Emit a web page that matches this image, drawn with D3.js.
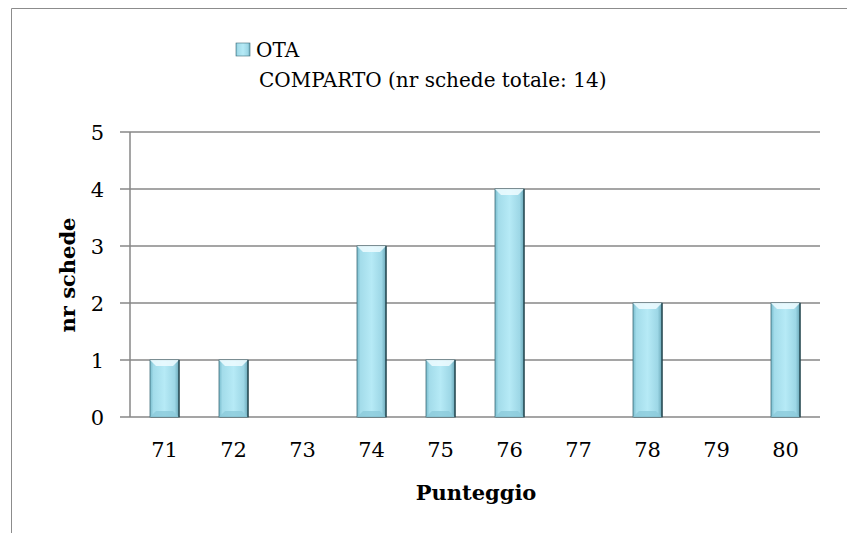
<!DOCTYPE html>
<html>
<head>
<meta charset="utf-8">
<script src="https://cdn.jsdelivr.net/npm/d3@7"></script>
<style>
  body { margin: 0; background: #fff; overflow: hidden; }
  svg { display: block; }
  text { font-family: "DejaVu Serif", "Liberation Serif", serif; fill: #000; }
</style>
</head>
<body>
<script>
// Dati
const categorie = ["71", "72", "73", "74", "75", "76", "77", "78", "79", "80"];
const valori = [1, 1, 0, 3, 1, 4, 0, 2, 0, 2];
const yTicks = [0, 1, 2, 3, 4, 5];
const serieNome = "OTA";
const serieNome2 = "COMPARTO (nr schede totale: 14)";

const w = 847, h = 533;
const pLeft = 130, pRight = 820, pTop = 132, pBottom = 417;

const svg = d3.select("body").append("svg")
  .attr("width", w).attr("height", h);

// Gradienti barre
const defs = svg.append("defs");
const grad = defs.append("linearGradient").attr("id", "barGrad")
  .attr("x1", "0%").attr("x2", "100%").attr("y1", "0%").attr("y2", "0%");
[["0%", "#78bccd"], ["12%", "#a3dcea"], ["50%", "#b6eaf6"], ["85%", "#9dd7e6"], ["100%", "#6aa8b8"]]
  .forEach(s => grad.append("stop").attr("offset", s[0]).attr("stop-color", s[1]));

// Cornice (solo lato superiore e sinistro visibili)
svg.append("path")
  .attr("d", `M${w},8.5 H11.5 V${h}`)
  .attr("fill", "none").attr("stroke", "#8c8c8c").attr("stroke-width", 1);

// Scale
const x = d3.scaleBand().domain(categorie).range([pLeft, pRight]).paddingInner(0.58).paddingOuter(0.29);
const xb = d3.scaleBand().domain(categorie).range([pLeft, pRight]);
const y = d3.scaleLinear().domain([0, 5]).range([pBottom, pTop]);

// Griglia
svg.append("g").selectAll("line").data(yTicks).enter().append("line")
  .attr("x1", pLeft - 10).attr("x2", pRight)
  .attr("y1", d => y(d)).attr("y2", d => y(d))
  .attr("stroke", "#878787").attr("stroke-width", 1.5);

// Asse Y
svg.append("line").attr("x1", pLeft).attr("x2", pLeft)
  .attr("y1", y(5)).attr("y2", y(0))
  .attr("stroke", "#878787").attr("stroke-width", 1.5);

svg.append("g").selectAll("text").data(yTicks).enter().append("text")
  .attr("x", 104).attr("y", d => y(d))
  .attr("dy", "0.36em")
  .attr("text-anchor", "end")
  .attr("font-size", "21px")
  .text(d => d);

// Etichette X
svg.append("g").selectAll("text").data(categorie).enter().append("text")
  .attr("x", d => xb(d) + xb.bandwidth() / 2)
  .attr("y", 457)
  .attr("text-anchor", "middle")
  .attr("font-size", "21px")
  .text(d => d);

// Barre
const bars = svg.append("g").selectAll("g").data(valori.map((v, i) => ({ c: categorie[i], v })))
  .enter().filter(d => d.v > 0).append("g");

bars.append("rect")
  .attr("x", d => x(d.c) + 1).attr("y", d => y(d.v) + 1)
  .attr("width", x.bandwidth()).attr("height", d => y(0) - y(d.v))
  .attr("fill", "#000").attr("opacity", 0.12);

bars.append("rect")
  .attr("x", d => x(d.c)).attr("y", d => y(d.v))
  .attr("width", x.bandwidth()).attr("height", d => y(0) - y(d.v))
  .attr("fill", "url(#barGrad)")
  .attr("stroke", "#3f6c78").attr("stroke-width", 0.8);

// smusso superiore
bars.append("polygon")
  .attr("points", d => {
    const x0 = x(d.c), x1 = x0 + x.bandwidth(), y0 = y(d.v), b = 6;
    return `${x0},${y0} ${x1},${y0} ${x1 - b},${y0 + b} ${x0 + b},${y0 + b}`;
  })
  .attr("fill", "#eefcff").attr("opacity", 0.85);

// smusso inferiore
bars.append("polygon")
  .attr("points", d => {
    const x0 = x(d.c), x1 = x0 + x.bandwidth(), y0 = y(0), b = 6;
    return `${x0},${y0} ${x1},${y0} ${x1 - b},${y0 - b} ${x0 + b},${y0 - b}`;
  })
  .attr("fill", "#8ccbdb").attr("opacity", 0.8);

// bordo destro scuro
bars.append("line")
  .attr("x1", d => x(d.c) + x.bandwidth()).attr("x2", d => x(d.c) + x.bandwidth())
  .attr("y1", d => y(d.v)).attr("y2", y(0))
  .attr("stroke", "#1f3f48").attr("stroke-width", 1.2);

// Legenda
svg.append("rect")
  .attr("x", 236).attr("y", 43).attr("width", 14).attr("height", 13)
  .attr("fill", "url(#barGrad)").attr("stroke", "#3f6c78").attr("stroke-width", 0.6);
svg.append("text").attr("x", 256).attr("y", 57)
  .attr("font-size", "20px").text(serieNome);
svg.append("text").attr("x", 259).attr("y", 87)
  .attr("font-size", "20px").text(serieNome2);

// Titoli assi
svg.append("text")
  .attr("transform", "translate(75,275) rotate(-90)")
  .attr("text-anchor", "middle")
  .attr("font-size", "21px").attr("font-weight", "bold")
  .text("nr schede");

svg.append("text")
  .attr("x", 476).attr("y", 500)
  .attr("text-anchor", "middle")
  .attr("font-size", "21px").attr("font-weight", "bold")
  .text("Punteggio");
</script>
</body>
</html>
